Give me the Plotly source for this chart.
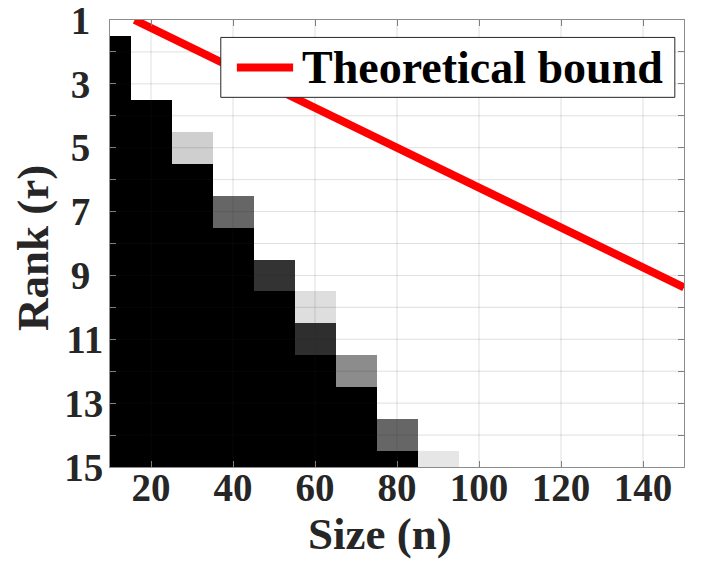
import plotly.graph_objects as go

# sizes n (columns) and ranks r (rows)
sizes = [10, 20, 30, 40, 50, 60, 70, 80, 90, 100, 110, 120, 130, 140, 150]
ranks = list(range(1, 16))

# success rate per (rank, size); 1 = white, 0 = black
rate = [
    # n: 10   20   30    40   50   60    70    80   90   100  110  120  130  140  150
    [1.0, 1.0, 1.0, 1.0, 1.0, 1.0, 1.0, 1.0, 1.0, 1.0, 1.0, 1.0, 1.0, 1.0, 1.0],   # r=1
    [0.0, 1.0, 1.0, 1.0, 1.0, 1.0, 1.0, 1.0, 1.0, 1.0, 1.0, 1.0, 1.0, 1.0, 1.0],   # r=2
    [0.0, 1.0, 1.0, 1.0, 1.0, 1.0, 1.0, 1.0, 1.0, 1.0, 1.0, 1.0, 1.0, 1.0, 1.0],   # r=3
    [0.0, 0.0, 1.0, 1.0, 1.0, 1.0, 1.0, 1.0, 1.0, 1.0, 1.0, 1.0, 1.0, 1.0, 1.0],   # r=4
    [0.0, 0.0, 0.81, 1.0, 1.0, 1.0, 1.0, 1.0, 1.0, 1.0, 1.0, 1.0, 1.0, 1.0, 1.0],  # r=5
    [0.0, 0.0, 0.0, 1.0, 1.0, 1.0, 1.0, 1.0, 1.0, 1.0, 1.0, 1.0, 1.0, 1.0, 1.0],   # r=6
    [0.0, 0.0, 0.0, 0.4, 1.0, 1.0, 1.0, 1.0, 1.0, 1.0, 1.0, 1.0, 1.0, 1.0, 1.0],   # r=7
    [0.0, 0.0, 0.0, 0.0, 1.0, 1.0, 1.0, 1.0, 1.0, 1.0, 1.0, 1.0, 1.0, 1.0, 1.0],   # r=8
    [0.0, 0.0, 0.0, 0.0, 0.2, 1.0, 1.0, 1.0, 1.0, 1.0, 1.0, 1.0, 1.0, 1.0, 1.0],   # r=9
    [0.0, 0.0, 0.0, 0.0, 0.0, 0.87, 1.0, 1.0, 1.0, 1.0, 1.0, 1.0, 1.0, 1.0, 1.0],  # r=10
    [0.0, 0.0, 0.0, 0.0, 0.0, 0.18, 1.0, 1.0, 1.0, 1.0, 1.0, 1.0, 1.0, 1.0, 1.0],  # r=11
    [0.0, 0.0, 0.0, 0.0, 0.0, 0.0, 0.55, 1.0, 1.0, 1.0, 1.0, 1.0, 1.0, 1.0, 1.0],  # r=12
    [0.0, 0.0, 0.0, 0.0, 0.0, 0.0, 0.0, 1.0, 1.0, 1.0, 1.0, 1.0, 1.0, 1.0, 1.0],   # r=13
    [0.0, 0.0, 0.0, 0.0, 0.0, 0.0, 0.0, 0.4, 1.0, 1.0, 1.0, 1.0, 1.0, 1.0, 1.0],   # r=14
    [0.0, 0.0, 0.0, 0.0, 0.0, 0.0, 0.0, 0.0, 0.9, 1.0, 1.0, 1.0, 1.0, 1.0, 1.0],   # r=15
]

# theoretical bound r = n / 16
bound_n = [16, 150]
bound_r = [1.0, 9.375]

x_ticks = [20, 40, 60, 80, 100, 120, 140]
y_ticks = ranks
y_ticktext = [("" if r % 2 == 0 else (f"{r}\u2004" if r < 10 else str(r))) for r in ranks]

FONT = "Liberation Serif, Times New Roman, serif"
INK = "#262626"
GRID = "rgba(38,38,38,0.15)"

fig = go.Figure()

fig.add_trace(go.Heatmap(
    x=sizes, y=ranks, z=rate,
    colorscale=[[0, "black"], [1, "white"]],
    zmin=0, zmax=1, showscale=False, hoverinfo="skip",
))

# grid drawn over the image (MATLAB style)
gx, gy = [], []
for v in x_ticks:
    gx += [v, v, None]
    gy += [1, 15, None]
for r in ranks[1:-1]:
    gx += [10, 150, None]
    gy += [r, r, None]
fig.add_trace(go.Scatter(x=gx, y=gy, mode="lines", line=dict(color=GRID, width=1),
                         hoverinfo="skip", showlegend=False))

fig.add_trace(go.Scatter(
    x=bound_n, y=bound_r, mode="lines",
    line=dict(color="#ff0000", width=8),
    name="Theoretical bound", showlegend=False,
))

fig.update_xaxes(
    range=[10, 150], tickvals=x_ticks, ticks="inside", ticklen=6, tickcolor="#7f7f7f",
    showgrid=False, zeroline=False, showline=True, linecolor="#8c8c8c", linewidth=1, mirror="ticks",
    ticklabelstandoff=-14, automargin=False,
    tickfont=dict(family=FONT, size=39, color=INK, weight="bold"),
)
fig.update_yaxes(
    range=[15, 0.9999], tickvals=y_ticks, ticktext=y_ticktext, ticks="inside", ticklen=6,
    tickcolor="#7f7f7f", showgrid=False, zeroline=False, showline=True, linecolor="#8c8c8c",
    linewidth=1, mirror="ticks", ticklabelstandoff=-2, ticklabeloverflow="allow", automargin=False,
    tickfont=dict(family=FONT, size=39, color=INK, weight="bold"),
)

# legend box (drawn manually to match the long line sample)
fig.add_shape(type="rect", xref="paper", yref="paper", x0=0.193, x1=0.984, y0=0.827, y1=0.961,
              fillcolor="white", line=dict(color="#262626", width=1), layer="above")
fig.add_shape(type="line", xref="paper", yref="paper", x0=0.221, x1=0.319, y0=0.894, y1=0.894,
              line=dict(color="#ff0000", width=8), layer="above")
fig.add_annotation(xref="paper", yref="paper", x=0.331, y=0.894, xanchor="left", yanchor="middle",
                   text="<b>Theoretical bound</b>", showarrow=False,
                   font=dict(family=FONT, size=46, color="black"))

# axis titles
fig.add_annotation(xref="paper", yref="paper", x=0.47, y=-0.15, xanchor="center", yanchor="middle",
                   text="<b>Size (n)</b>", showarrow=False,
                   font=dict(family=FONT, size=45, color=INK))
fig.add_annotation(xref="paper", yref="paper", x=-0.134, y=0.49, xanchor="center", yanchor="middle",
                   text="<b>Rank (r)</b>", showarrow=False, textangle=-90,
                   font=dict(family=FONT, size=45, color=INK))

fig.update_layout(
    width=706, height=567,
    margin=dict(l=102, r=30, t=12, b=108),
    paper_bgcolor="white", plot_bgcolor="white",
    showlegend=False,
)

fig.write_html("out.html")
